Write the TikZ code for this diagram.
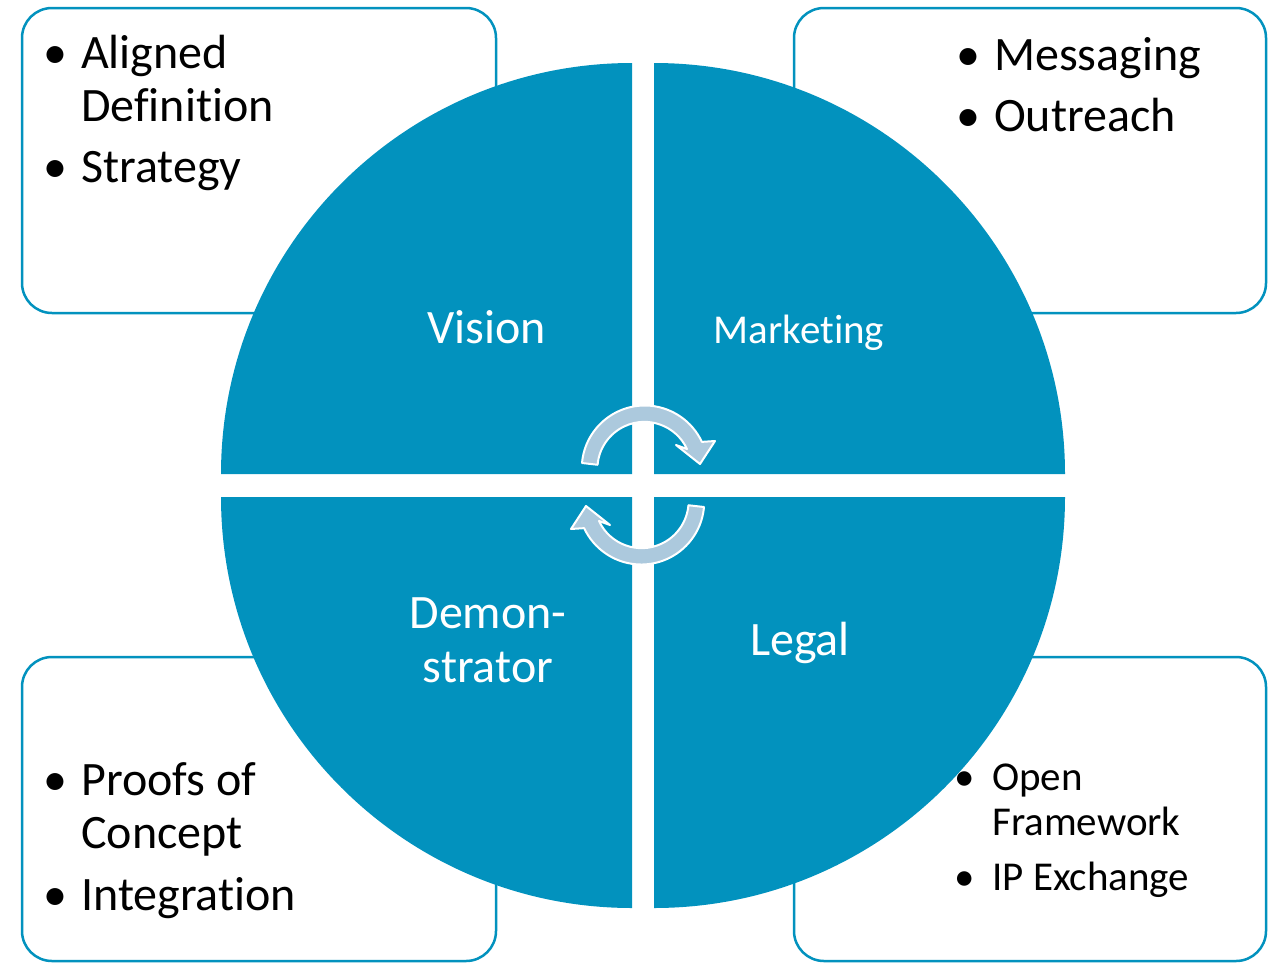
\documentclass[tikz,border=0pt]{standalone}
\usepackage{fontspec}
\setmainfont[RawFeature={-liga;-clig;-calt;-dlig}]{Carlito}
\definecolor{quad}{RGB}{2,146,190}
\definecolor{loop}{RGB}{172,201,221}
\newcommand{\nl}{\kern0pt}

\begin{document}
\begin{tikzpicture}[x=1pt,y=-1pt]
\tikzstyle{box}=[draw=quad, line width=2.5pt, fill=white, rounded corners=30pt]
\tikzstyle{itm}=[inner sep=0pt, anchor=base west, font=\fontsize{48}{53}\selectfont]
\tikzstyle{sml}=[inner sep=0pt, anchor=base west, font=\fontsize{41}{45}\selectfont]
\tikzstyle{dot}=[inner sep=0pt, anchor=base, font=\fontsize{48}{53}\selectfont]
\tikzstyle{lbl}=[white, inner sep=0pt, anchor=base, align=center, font=\fontsize{48}{54}\selectfont]
\tikzstyle{cyc}=[fill=loop, draw=white, line width=2pt, line join=round]

\useasboundingbox (0,0) rectangle (1269,962);

% boxes behind the circle
\draw[box] (22,8) rectangle (496,313);
\draw[box] (794,8) rectangle (1266,313);
\draw[box] (22,657) rectangle (496,961);
\draw[box] (794,657) rectangle (1266,961);

% four quarters
\foreach \cx/\cy/\a in {632/474/180,654/474/270,654/497/0,632/497/90}{
  \fill[quad] (\cx,\cy) -- ++(\a:411) arc[start angle=\a, delta angle=90, radius=411] -- cycle;}

% cycle arrows
\foreach \r in {0,180}{
\draw[cyc, rotate around={\r:(643,485)}] (582,463) arc[start angle=185, end angle=335, radius=63]
  -- (715,441) -- (700,464) -- (676,445) -- (687,449)
  arc[start angle=335, end angle=185, radius=47] -- cycle;}

% quarter labels
\node[lbl] (vis) at (487,343) {Vision};
\node[lbl, font=\fontsize{41}{45}\selectfont] (mkt) at (799,343) {Market\nl ing};
\node[lbl] (dem) at (488,682) {Demon-\\strator};
\node[lbl] (leg) at (800,655) {Legal};

% box texts
\foreach \n/\x/\y/\t in {al/81/68/Aligned,df/81/121/Defini\nl t\nl ion,st/81/182/Strategy,
  ms/994/70/Messaging,ou/994/131/Outreach,
  pr/81/795/Proofs of,co/81/848/Concept,in/81/910/Integrat\nl ion}{
  \node[itm] (\n) at (\x,\y) {\t};}
\foreach \n/\x/\y/\t in {op/992/790/Open,fr/992/835/Framework,ip/992/890/IP Exchange}{
  \node[sml] (\n) at (\x,\y) {\t};}
\foreach \n/\x/\y in {b1/55/68,b2/55/182,b3/968/70,b4/968/131,b5/55/795,b6/55/910}{
  \node[dot] (\n) at (\x,\y) {\textbullet};}
\foreach \n/\x/\y in {b7/965/790,b8/965/890}{
  \node[dot, font=\fontsize{41}{45}\selectfont] (\n) at (\x,\y) {\textbullet};}

\end{tikzpicture}
\end{document}
